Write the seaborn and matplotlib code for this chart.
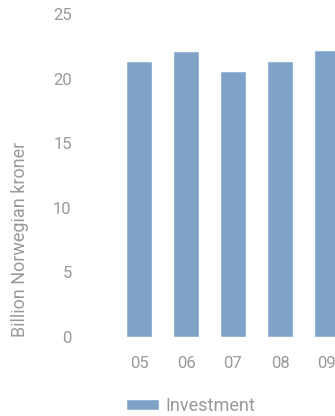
import matplotlib
matplotlib.use("Agg")
import matplotlib.pyplot as plt
import seaborn as sns
import pandas as pd

years = ["05", "06", "07", "08", "09"]
investment = [21.4, 22.1, 20.6, 21.4, 22.2]
series_name = "Investment"
y_ticks = [0, 5, 10, 15, 20, 25]
y_label = "Billion Norwegian kroner"

sns.set_theme(style="white")
plt.rcParams["font.family"] = ["Roboto", "DejaVu Sans"]

W, H = 335, 416
fig = plt.figure(figsize=(W / 100, H / 100), dpi=100)
ax_left, ax_right, ax_top, ax_bot = 80, 335, 14, 337
ax = fig.add_axes([ax_left / W, 1 - ax_bot / H, (ax_right - ax_left) / W, (ax_bot - ax_top) / H])

df = pd.DataFrame({"year": years, "value": investment})
sns.barplot(data=df, x="year", y="value", color="#7fa3c8", saturation=1,
            width=0.55, ax=ax, label=series_name)

gray = "#999999"
ax.set_ylim(0, 25)
ax.set_yticks(y_ticks)
ax.set_xlim(-(139 - ax_left) / 47, 4 + (335 - 327) / 47)
for s in ax.spines.values():
    s.set_visible(False)
ax.tick_params(axis="y", length=0, pad=6, labelsize=12, labelcolor=gray)
ax.tick_params(axis="x", length=0, pad=14, labelsize=12, labelcolor=gray)
ax.set_xlabel("")
ax.set_ylabel(y_label, loc="bottom", color=gray, fontsize=13, labelpad=17)

handles, labels = ax.get_legend_handles_labels()
leg = ax.get_legend()
if leg is not None:
    leg.remove()
fig.legend(handles, labels, loc="center left", bbox_to_anchor=(121 / W, 1 - 406 / H),
           frameon=False, fontsize=13, labelcolor=gray, handlelength=1.8,
           handleheight=0.55, handletextpad=0.35, borderaxespad=0, borderpad=0.3)

fig.savefig("out.png", dpi=100)
